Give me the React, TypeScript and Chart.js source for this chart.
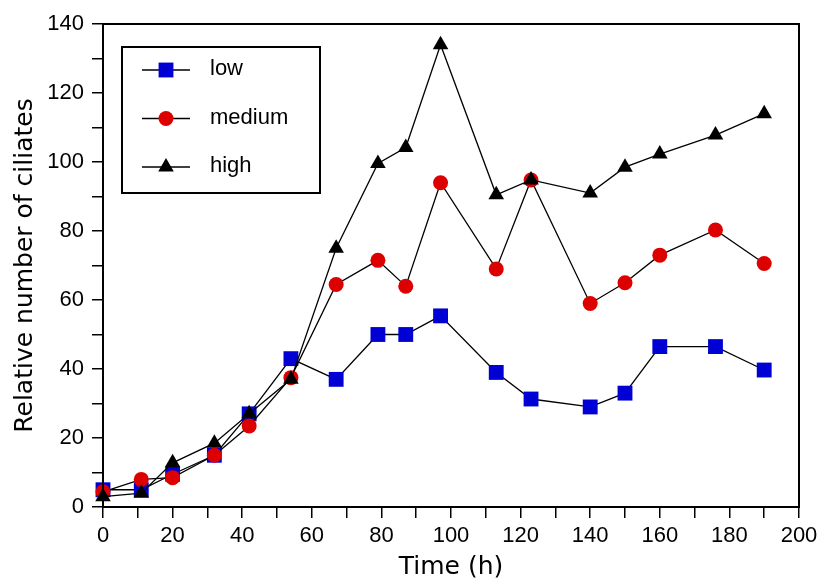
import React, { useEffect, useRef } from 'react';
import { Chart, registerables } from 'chart.js';

Chart.register(...registerables);

const times = [0, 11, 20, 32, 42, 54, 67, 79, 87, 97, 113, 123, 140, 150, 160, 176, 190];
const lowValues = [5, 5, 9.5, 15, 27, 43, 37, 50, 50, 55.4, 39, 31.3, 29, 33, 46.5, 46.5, 39.7];
const mediumValues = [4.4, 8, 8.5, 15, 23.5, 37.5, 64.5, 71.5, 64, 94, 69, 94.8, 59, 65, 73, 80.3, 70.6];
const highValues = [3, 4, 12.8, 18.5, 27, 37, 75, 99.6, 104.2, 134, 90.5, 94.8, 91, 98.5, 102.3, 107.8, 114];
const seriesNames = ['low', 'medium', 'high'];
const xTickLabels = ['0', '20', '40', '60', '80', '100', '120', '140', '160', '180', '200'];
const yTickLabels = ['0', '20', '40', '60', '80', '100', '120', '140'];

const BLUE = '#0000d4';
const RED = '#dd0000';

function drawMarker(ctx: CanvasRenderingContext2D, style: string, x: number, y: number, r: number, color: string) {
  ctx.fillStyle = color;
  ctx.beginPath();
  if (style === 'rect') {
    const s = Math.SQRT1_2 * r;
    ctx.rect(x - s, y - s, 2 * s, 2 * s);
  } else if (style === 'circle') {
    ctx.arc(x, y, r, 0, Math.PI * 2);
  } else {
    ctx.moveTo(x, y - r);
    ctx.lineTo(x + r * Math.sin((2 * Math.PI) / 3), y - r * Math.cos((2 * Math.PI) / 3));
    ctx.lineTo(x + r * Math.sin((4 * Math.PI) / 3), y - r * Math.cos((4 * Math.PI) / 3));
    ctx.closePath();
  }
  ctx.fill();
}

const framePlugin = {
  id: 'frameLegend',
  afterDraw(chart: any) {
    const { ctx, chartArea: a } = chart;
    ctx.save();
    ctx.strokeStyle = '#000';
    ctx.lineWidth = 2;
    ctx.strokeRect(a.left, a.top, a.right - a.left, a.bottom - a.top);
    const bx = a.left + 19;
    const by = a.top + 23;
    const bw = 198;
    const bh = 146;
    ctx.fillStyle = '#fff';
    ctx.fillRect(bx, by, bw, bh);
    ctx.strokeRect(bx, by, bw, bh);
    ctx.font = '22px "Liberation Sans", Arial, sans-serif';
    ctx.textBaseline = 'middle';
    chart.data.datasets.forEach((ds: any, i: number) => {
      const y = by + 23 + i * 48.5;
      ctx.strokeStyle = '#000';
      ctx.lineWidth = 1.3;
      ctx.beginPath();
      ctx.moveTo(bx + 20, y);
      ctx.lineTo(bx + 68, y);
      ctx.stroke();
      drawMarker(ctx, ds.pointStyle, bx + 44, y, ds.pointRadius, ds.pointBackgroundColor);
      ctx.fillStyle = '#000';
      ctx.fillText(ds.label, bx + 88, y - 1);
    });
    ctx.restore();
  },
};

export default function App() {
  const ref = useRef<HTMLCanvasElement>(null);
  useEffect(() => {
    document.body.style.margin = '0';
    const canvas = ref.current!;
    const mk = (vals: number[]) => times.map((t, i) => ({ x: t, y: vals[i] }));
    const base = {
      borderColor: '#000',
      borderWidth: 1.3,
      pointBorderWidth: 0,
      clip: false as any,
      tension: 0,
    };
    const tickFont = { family: '"Liberation Sans", Arial, sans-serif', size: 22 };
    const chart = new Chart(canvas, {
      type: 'line',
      data: {
        datasets: [
          {
            ...base,
            label: seriesNames[0],
            data: mk(lowValues),
            pointStyle: 'rect',
            pointRadius: 10.5,
            pointBackgroundColor: BLUE,
            backgroundColor: BLUE,
            order: 3,
          } as any,
          {
            ...base,
            label: seriesNames[1],
            data: mk(mediumValues),
            pointStyle: 'circle',
            pointRadius: 7.5,
            pointBackgroundColor: RED,
            backgroundColor: RED,
            order: 2,
          } as any,
          {
            ...base,
            label: seriesNames[2],
            data: mk(highValues),
            pointStyle: 'triangle',
            pointRadius: 9,
            pointBackgroundColor: '#000',
            backgroundColor: '#000',
            order: 1,
          } as any,
        ],
      },
      options: {
        responsive: false,
        animation: false,
        events: [],
        layout: { padding: { top: 24, right: 21, left: 0, bottom: 0 } },
        plugins: { legend: { display: false }, tooltip: { enabled: false } },
        scales: {
          x: {
            type: 'linear',
            min: 0,
            max: 200,
            afterFit: (s: any) => {
              s.height = 77;
              s.paddingRight = 0;
              s.paddingLeft = 0;
            },
            border: { display: true, color: '#000', width: 2 },
            grid: { drawOnChartArea: false, drawTicks: true, tickLength: 11, color: '#000', lineWidth: 1.5 },
            ticks: {
              stepSize: 10,
              autoSkip: false,
              maxRotation: 0,
              padding: 5,
              color: '#000',
              font: tickFont,
              callback: (v: any) => {
                const s = String(v);
                return xTickLabels.includes(s) ? s : '';
              },
            },
            title: {
              display: true,
              text: 'Time (h)',
              color: '#000',
              font: { family: '"DejaVu Sans", sans-serif', size: 25 },
              padding: { top: 0, bottom: 2 },
            },
          },
          y: {
            type: 'linear',
            min: 0,
            max: 140,
            afterFit: (s: any) => {
              s.width = 103;
              s.paddingTop = 0;
              s.paddingBottom = 0;
            },
            border: { display: true, color: '#000', width: 2 },
            grid: { drawOnChartArea: false, drawTicks: true, tickLength: 11, color: '#000', lineWidth: 1.5 },
            ticks: {
              stepSize: 10,
              autoSkip: false,
              padding: 8,
              color: '#000',
              font: tickFont,
              callback: (v: any) => {
                const s = String(v);
                return yTickLabels.includes(s) ? s : '';
              },
            },
            title: {
              display: true,
              text: 'Relative number of ciliates',
              color: '#000',
              font: { family: '"DejaVu Sans", sans-serif', size: 25 },
              padding: { top: 10, bottom: 0 },
            },
          },
        },
      },
      plugins: [framePlugin],
    });
    return () => chart.destroy();
  }, []);
  return <canvas ref={ref} width={820} height={584} style={{ display: 'block' }} />;
}
